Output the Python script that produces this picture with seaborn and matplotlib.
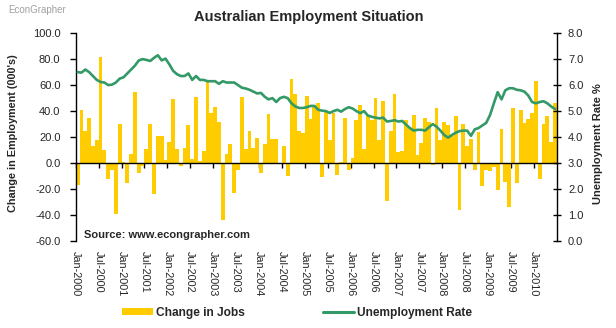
import matplotlib
matplotlib.use("Agg")
import matplotlib.pyplot as plt
from matplotlib.patches import Patch
from matplotlib.lines import Line2D
from matplotlib.ticker import FormatStrFormatter
import seaborn as sns
import pandas as pd

# Monthly change in employment (000's), Jan-2000 .. Jun-2010
job_change = [
    -17, 41, 25, 35, 13, 18, 82, 10, -12.5, -5,
    -39.5, 30, 1, -15, 7, 55, -8, -2, 11, 30,
    -23.5, 21, 20.5, 2, 16.5, 49, 11, -2.5, 12, 29.5,
    3.5, 51, 1.5, 9.5, 64, 38.5, 43.5, 32, -43.5, 7,
    15, -23, -5, 51, 11, 25, 12, 19.5, -7.5, 15,
    38, 18.7, 18.7, -1, 13, -10, 65, 53, 25, 23.3,
    52, 34, 45, 46, -11, 39, 18, 38.5, -9.5, 1,
    35, -5, 4, 33, 45, 11, 37, 33, 50, 17.5,
    48, -29, 25, 53, 8.5, 9, 33.5, 27, 37, 6.2,
    15.5, 35, 31.8, -1.8, 42.6, 17.4, 31.5, 29, 20.5, 36,
    -36.4, 30, 12.8, 18.7, -5.6, 24, -17.7, -5, -6, -3,
    -21, 26.4, -14.6, -34, 42.6, -15.6, 41, 31, 34, 38.7,
    63, -12, 30, 36, 16, 46,
]

# Unemployment rate (%)
unemp_rate = [
    6.5, 6.48, 6.6, 6.5, 6.35, 6.2, 6.12, 6.1, 6.0, 6.02,
    6.1, 6.25, 6.3, 6.45, 6.6, 6.75, 6.95, 7.0, 6.97, 6.93,
    7.05, 7.15, 6.95, 7.02, 6.8, 6.55, 6.42, 6.35, 6.35, 6.45,
    6.2, 6.35, 6.2, 6.2, 6.15, 6.15, 6.15, 6.05, 6.15, 6.1,
    6.1, 6.1, 6.0, 5.9, 5.87, 5.82, 5.75, 5.68, 5.7, 5.55,
    5.45, 5.5, 5.35, 5.5, 5.55, 5.5, 5.3, 5.18, 5.12, 5.12,
    5.15, 5.2, 5.2, 5.05, 5.02, 5.0, 4.93, 5.0, 5.05, 4.98,
    5.08, 5.15, 5.1, 5.0, 4.92, 5.0, 4.83, 4.78, 4.75, 4.72,
    4.75, 4.6, 4.62, 4.65, 4.6, 4.62, 4.48, 4.35, 4.25, 4.28,
    4.28, 4.25, 4.38, 4.5, 4.4, 4.25, 4.08, 3.98, 4.08, 4.17,
    4.23, 4.25, 4.25, 4.05, 4.3, 4.35, 4.45, 4.55, 4.85, 5.3,
    5.73, 5.45, 5.8, 5.88, 5.88, 5.82, 5.8, 5.75, 5.6, 5.35,
    5.3, 5.35, 5.38, 5.3, 5.18, 5.08,
]

tick_labels = [
    "Jan-2000", "Jul-2000", "Jan-2001", "Jul-2001", "Jan-2002", "Jul-2002",
    "Jan-2003", "Jul-2003", "Jan-2004", "Jul-2004", "Jan-2005", "Jul-2005",
    "Jan-2006", "Jul-2006", "Jan-2007", "Jul-2007", "Jan-2008", "Jul-2008",
    "Jan-2009", "Jul-2009", "Jan-2010",
]

months = pd.date_range("2000-01-01", periods=len(job_change), freq="MS")
df = pd.DataFrame({"idx": range(len(job_change)), "month": months,
                   "jobs": job_change, "rate": unemp_rate})

sns.set_theme(style="white")
plt.rcParams["font.family"] = ["Liberation Sans", "DejaVu Sans"]

BAR = "#FFCC00"
LINE = "#339966"

fig = plt.figure(figsize=(6.16, 3.28), dpi=100)
ax = fig.add_axes([0.123, 0.265, 0.781, 0.634])

sns.barplot(data=df, x="idx", y="jobs", color=BAR, saturation=1, width=1.0,
            errorbar=None, linewidth=0, ax=ax)

ax2 = ax.twinx()
sns.lineplot(data=df, x="idx", y="rate", color=LINE, linewidth=1.9, ax=ax2)

n = len(job_change)
ax.set_xlim(-0.5, n - 0.5)
ax2.set_xlim(-0.5, n - 0.5)

ax.set_ylim(-60, 100)
ax.set_yticks(range(-60, 101, 20))
ax.yaxis.set_major_formatter(FormatStrFormatter("%.1f"))
ax2.set_ylim(0, 8)
ax2.set_yticks(range(0, 9))
ax2.yaxis.set_major_formatter(FormatStrFormatter("%.1f"))

tick_pos = [-0.5 + 6 * k for k in range(len(tick_labels))]

# zero-line axis with tick marks
ax.spines["bottom"].set_position(("data", 0))
ax.spines["bottom"].set_color("black")
ax.spines["bottom"].set_linewidth(1.0)
ax.set_xticks(tick_pos)
ax.tick_params(axis="x", which="both", bottom=True, direction="out", length=3.5,
               width=1, color="black", labelbottom=False)

# labels at bottom of plot area
sec = ax.secondary_xaxis("bottom")
sec.set_xticks(tick_pos)
sec.set_xticklabels(tick_labels, rotation=-90, ha="center", va="top", fontsize=7.8)
sec.tick_params(axis="x", length=0, pad=7)
sec.spines["bottom"].set_visible(False)

ax.spines["top"].set_visible(False)
ax.spines["right"].set_visible(False)
ax.spines["left"].set_color("black")
ax.spines["left"].set_linewidth(1.0)
for s in ("top", "bottom", "left"):
    ax2.spines[s].set_visible(False)
ax2.spines["right"].set_color("black")
ax2.spines["right"].set_linewidth(1.0)

ax.tick_params(axis="y", left=True, direction="out", length=4, width=1,
               color="black", labelsize=8, pad=7)
ax2.tick_params(axis="y", right=True, direction="inout", length=6, width=1,
                color="black", labelsize=8, pad=5)
ax.grid(False)
ax2.grid(False)

ax.set_xlabel("")
ax2.set_xlabel("")
ax.set_ylabel("Change in Employment (000's)", fontsize=7.8, fontweight="bold")
ax.yaxis.set_label_coords(-0.12, 0.517)
ax2.set_ylabel("Unemployment Rate %", fontsize=8, fontweight="bold")
ax2.yaxis.set_label_coords(1.075, 0.469)

ax.text(0.017, 0.03, "Source: www.econgrapher.com", transform=ax.transAxes,
        fontsize=8, fontweight="bold", ha="left", va="center")

fig.text(0.502, 0.948, "Australian Employment Situation", ha="center", va="center",
         fontsize=10.5, fontweight="bold")
fig.text(0.013, 0.968, "EconGrapher", ha="left", va="center", fontsize=7,
         color="#a0a0a0")

handles = [Patch(facecolor=BAR, edgecolor="none"),
           Line2D([0], [0], color=LINE, linewidth=2.2)]
fig.legend(handles, ["Change in Jobs", "Unemployment Rate"], loc="center",
           bbox_to_anchor=(0.482, 0.046), ncol=2, frameon=False,
           handlelength=2.6, handleheight=0.6, columnspacing=6.5, handletextpad=0.3,
           prop={"weight": "bold", "size": 8.6})

fig.savefig("out.png", dpi=100)
